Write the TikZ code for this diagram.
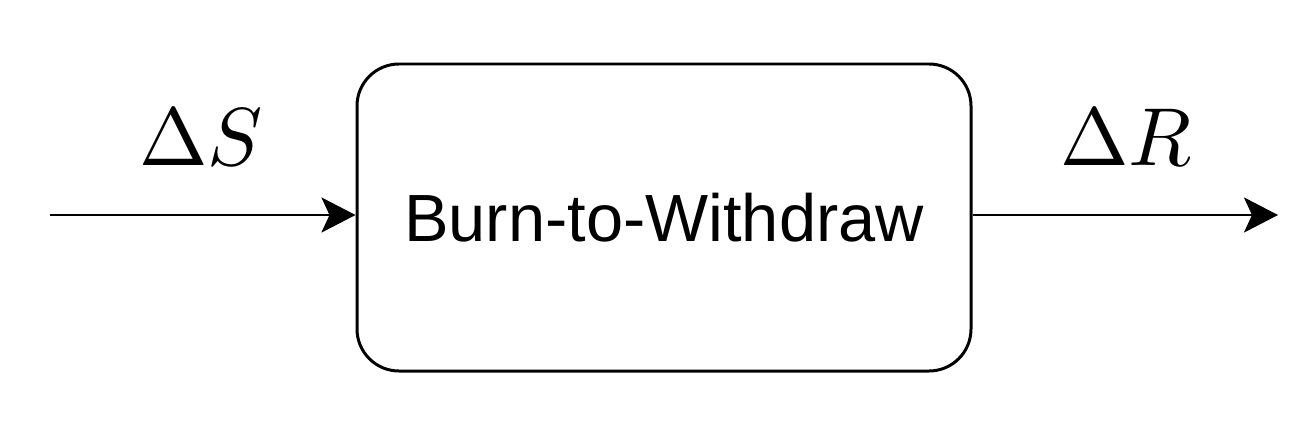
\documentclass[tikz,border=0pt]{standalone}
\usepackage{amsmath, amssymb}
\usepackage{fontspec}
\setsansfont{Liberation Sans}
\usetikzlibrary{arrows.meta, positioning}

\begin{document}
\begin{tikzpicture}[
    block/.style={rectangle, draw, line width=1.7pt, rounded corners=0.84cm, minimum width=12.28cm, minimum height=6.14cm, font=\sffamily\fontsize{38}{44}\selectfont},
    arrow/.style={line width=1.7pt, -{Stealth[length=0.68cm, width=0.7cm, inset=0.16cm]}},
    lbl/.style={font=\normalsize, scale=4.68, anchor=base}
]

\useasboundingbox (0,0) rectangle (26.28,8.68);

% Mechanism
\node[block] (btw) at (13.28,4.33) {Burn-to-Withdraw};

% Input and output ends
\coordinate (in) at (1.0,4.38);
\coordinate (out) at (25.56,4.38);

% Connections
\draw[arrow] (in) -- (in -| btw.west);
\draw[arrow] (out -| btw.east) -- (out);

% Labels
\node[lbl] (dS) at (4.02,5.38) {$\Delta S$};
\node[lbl] (dR) at (22.52,5.38) {$\Delta R$};

\end{tikzpicture}
\end{document}
